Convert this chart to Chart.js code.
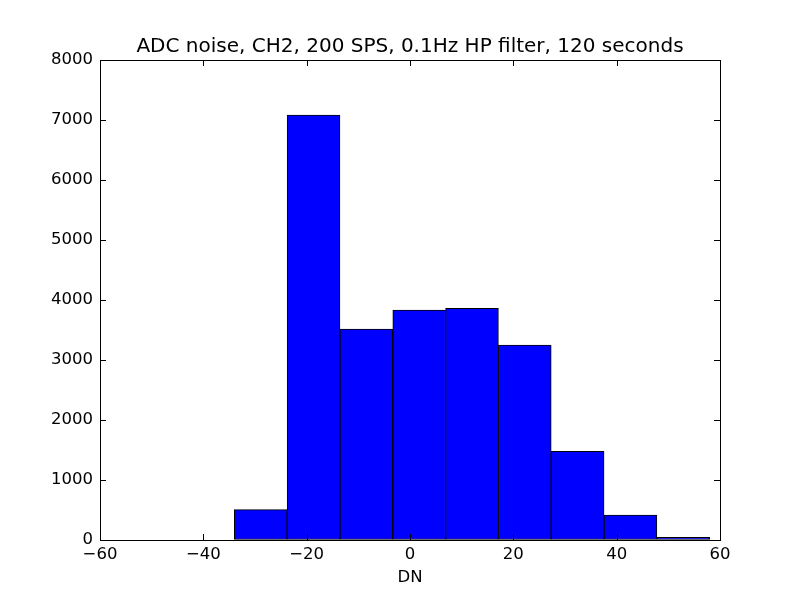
<!DOCTYPE html>
<html>
<head>
<meta charset="utf-8">
<script src="https://cdn.jsdelivr.net/npm/chart.js@4"></script>
<style>
html, body { margin: 0; padding: 0; background: #ffffff; }
#wrap { width: 800px; height: 600px; }
</style>
</head>
<body>
<div id="wrap"><canvas id="c" width="800" height="600"></canvas></div>
<script>
// Histogram bin edges (DN) and counts
const binEdges = [-34, -23.78, -13.56, -3.33, 6.89, 17.11, 27.33, 37.56, 47.78, 58];
const counts = [505, 7083, 3517, 3833, 3861, 3250, 1478, 417, 45];
const xTicks = [-60, -40, -20, 0, 20, 40, 60];
const yTicks = [0, 1000, 2000, 3000, 4000, 5000, 6000, 7000, 8000];
const titleText = 'ADC noise, CH2, 200 SPS, 0.1Hz HP filter, 120 seconds';
const xLabel = 'DN';

const points = counts.map((v, i) => ({ x: (binEdges[i] + binEdges[i + 1]) / 2, y: v }));
const FONT = 'DejaVu Sans';

const frameAndTicks = {
  id: 'frameAndTicks',
  afterDatasetsDraw(chart) {
    const { ctx, chartArea: a, scales } = chart;
    const L = 6;
    ctx.save();
    ctx.strokeStyle = '#000';
    ctx.lineWidth = 1;
    ctx.beginPath();
    scales.x.ticks.forEach(t => {
      const px = Math.round(scales.x.getPixelForValue(t.value)) + 0.5;
      ctx.moveTo(px, a.bottom); ctx.lineTo(px, a.bottom - L);
      ctx.moveTo(px, a.top); ctx.lineTo(px, a.top + L);
    });
    scales.y.ticks.forEach(t => {
      const py = Math.round(scales.y.getPixelForValue(t.value)) + 0.5;
      ctx.moveTo(a.left, py); ctx.lineTo(a.left + L, py);
      ctx.moveTo(a.right, py); ctx.lineTo(a.right - L, py);
    });
    ctx.stroke();
    ctx.strokeRect(Math.round(a.left) + 0.5, Math.round(a.top) + 0.5,
                   Math.round(a.right - a.left), Math.round(a.bottom - a.top));
    ctx.restore();
  }
};

new Chart(document.getElementById('c'), {
  type: 'bar',
  data: {
    datasets: [{
      data: points,
      backgroundColor: '#0000ff',
      borderColor: '#000000',
      borderWidth: 1,
      borderSkipped: false,
      barPercentage: 1,
      categoryPercentage: 1,
      grouped: false
    }]
  },
  options: {
    responsive: false,
    animation: false,
    devicePixelRatio: 1,
    layout: { padding: { left: 20, right: 0, top: 0, bottom: 0 } },
    plugins: {
      legend: { display: false },
      tooltip: { enabled: false },
      title: {
        display: true,
        text: titleText,
        color: '#000',
        font: { family: FONT, size: 20, weight: 'normal', lineHeight: 1.2 },
        padding: { top: 35, bottom: 1 }
      }
    },
    scales: {
      x: {
        type: 'linear',
        min: -60, max: 60,
        offset: false,
        afterFit(s) { s.height = 60; },
        afterBuildTicks(s) { s.ticks = xTicks.map(v => ({ value: v })); },
        grid: { drawOnChartArea: false, drawTicks: false, offset: false },
        border: { display: true, color: '#000', width: 1 },
        ticks: {
          color: '#000',
          padding: 5,
          maxRotation: 0,
          autoSkip: false,
          font: { family: FONT, size: 16.5 },
          callback: v => String(v).replace('-', '\u2212')
        },
        title: {
          display: true,
          text: xLabel,
          color: '#000',
          font: { family: FONT, size: 16.5, lineHeight: 1.2 },
          padding: { top: 0, bottom: 12 }
        }
      },
      y: {
        min: 0, max: 8000,
        afterFit(s) { s.width = 80; },
        afterBuildTicks(s) { s.ticks = yTicks.map(v => ({ value: v })); },
        grid: { drawOnChartArea: false, drawTicks: false },
        border: { display: true, color: '#000', width: 1 },
        ticks: {
          color: '#000',
          padding: 7,
          autoSkip: false,
          font: { family: FONT, size: 16.5 },
          callback: v => String(v)
        }
      },
      yRight: {
        type: 'linear',
        position: 'right',
        min: 0, max: 8000,
        afterFit(s) { s.width = 80; },
        grid: { display: false, drawTicks: false },
        border: { display: false },
        ticks: { display: false }
      }
    }
  },
  plugins: [frameAndTicks]
});
</script>
</body>
</html>
